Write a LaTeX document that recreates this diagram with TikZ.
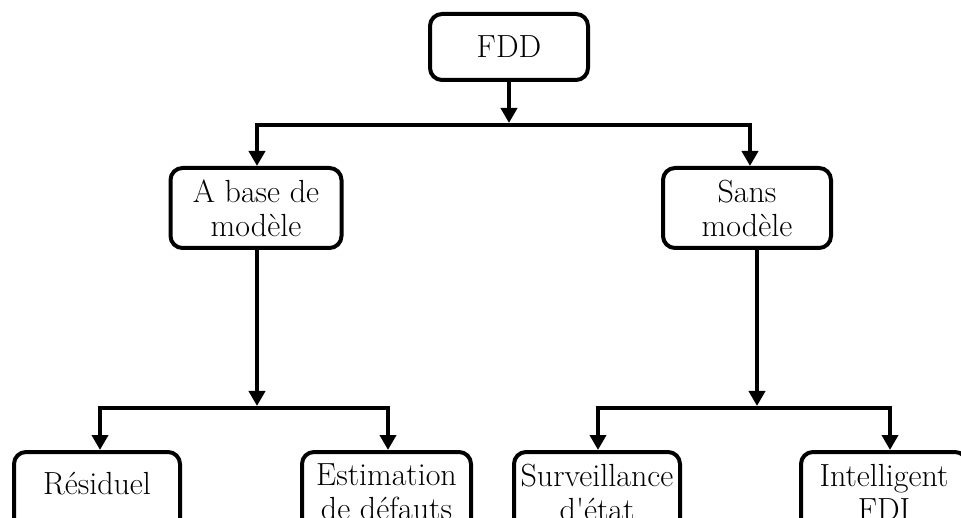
\documentclass[tikz,border=0pt]{standalone}
\usetikzlibrary{arrows.meta}
\begin{document}
\begin{tikzpicture}[x=1pt,y=-1pt,
  box/.style={draw, line width=4pt, rounded corners=12pt, align=center,
    inner sep=0pt, minimum height=80pt, font=\fontsize{32}{34}\selectfont},
  link/.style={line width=4pt, line join=miter},
  tip/.style={-{Triangle[width=16pt,length=15pt]}},
  bitip/.style={{Triangle[width=16pt,length=15pt]}-{Triangle[width=16pt,length=15pt]}}]
\useasboundingbox (0,0) rectangle (961,518);
\clip (0,0) rectangle (961,518);

% boxes
\node[box, minimum width=158pt, minimum height=66pt] (fdd) at (509,47) {FDD};
\node[box, minimum width=171pt] (base) at (256,208) {A base de\\modèle};
\node[box, minimum width=168pt] (sans) at (747,208) {Sans\\modèle};
\node[box, minimum width=166pt, text depth=18pt] (res) at (97,492) {Résiduel};
\node[box, minimum width=169pt] (est) at (386.5,492) {Estimation\\de défauts};
\node[box, minimum width=166pt] (surv) at (597,492) {Surveillance\\d\textquotesingle état};
\node[box, minimum width=166pt] (intel) at (884,492) {Intelligent\\FDI};

% junction points
\coordinate (j0) at (509,125);
\coordinate (bl) at (257,125);
\coordinate (br) at (750,125);
\coordinate (j1) at (257,408);
\coordinate (cl) at (100,408);
\coordinate (cr) at (388,408);
\coordinate (j2) at (757,408);
\coordinate (dl) at (598,408);
\coordinate (dr) at (890,408);

% first level
\draw[link, tip, shorten >=2pt] (fdd.south) -- (j0);
\draw[link, bitip] (bl |- base.north) -- (bl) -- (br) -- (br |- sans.north);

% second level, model based
\draw[link, tip, shorten >=2pt] (base.south -| j1) -- (j1);
\draw[link, bitip] (cl |- res.north) -- (cl) -- (cr) -- (cr |- est.north);

% second level, model free
\draw[link, tip, shorten >=2pt] (sans.south -| j2) -- (j2);
\draw[link, bitip] (dl |- surv.north) -- (dl) -- (dr) -- (dr |- intel.north);
\end{tikzpicture}
\end{document}
